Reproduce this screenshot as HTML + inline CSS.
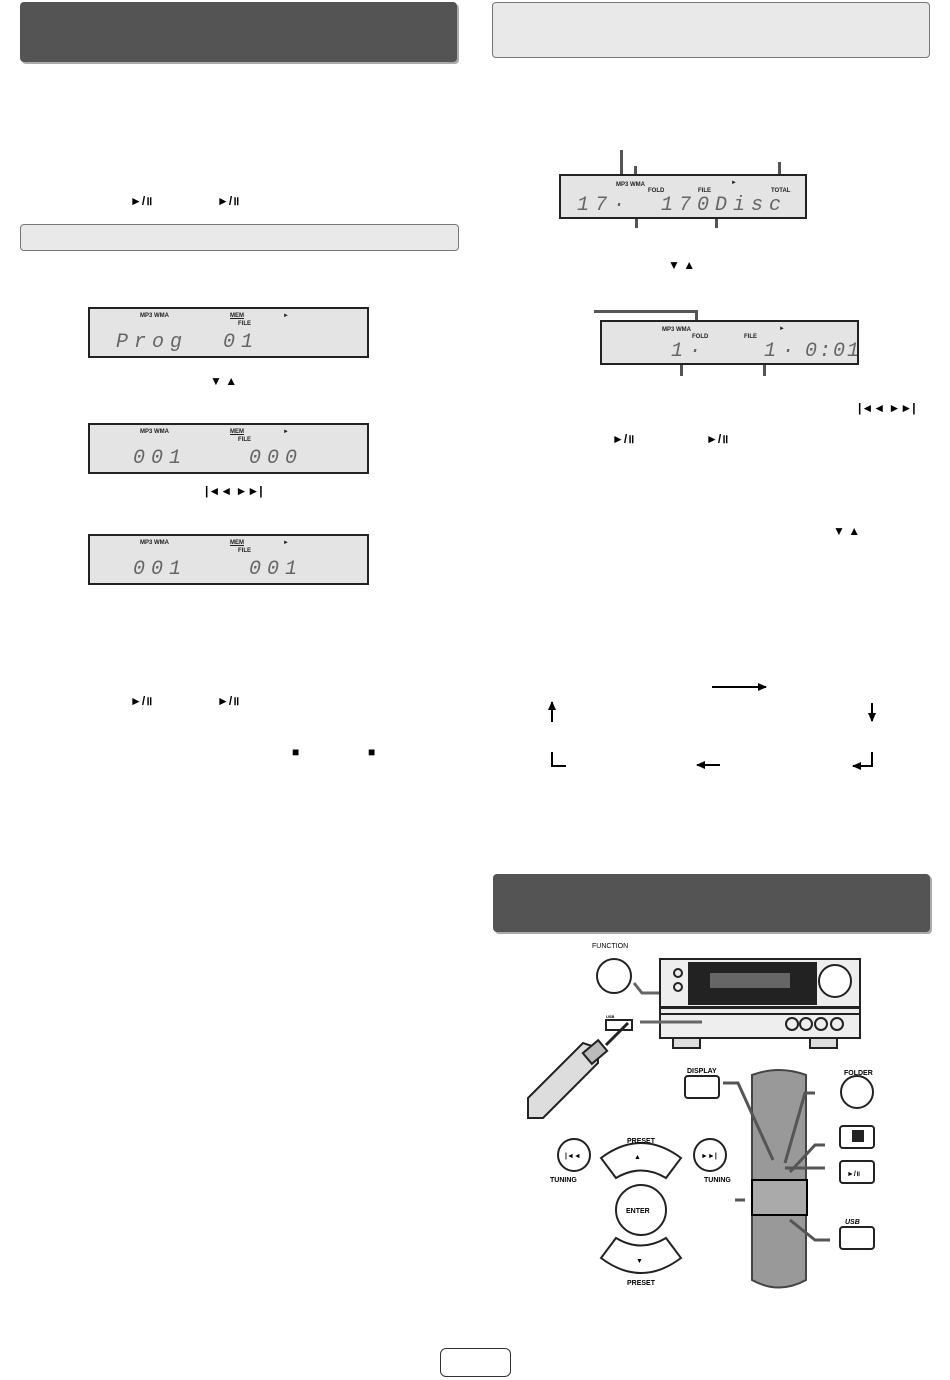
<!DOCTYPE html>
<html><head><meta charset="utf-8"><style>
body{margin:0;background:#fff;font-family:"Liberation Sans",sans-serif;}
.pg{position:relative;width:950px;height:1380px;overflow:hidden;background:#fff}
.a{position:absolute}
.dk{background:#545454;border-radius:4px;box-shadow:2px 2px 0 #aaa}
.lt{background:#e9e9e9;border:1px solid #777;border-radius:4px}
.lcd{position:absolute;background:#e4e4e4;border:2px solid #222;box-sizing:border-box}
.lcd .s{position:absolute;font-size:6px;font-weight:bold;color:#222}
.lcd .d{position:absolute;font-family:"Liberation Mono",monospace;font-style:italic;font-size:20px;color:#666;letter-spacing:6px;white-space:nowrap;line-height:20px}
.sym{position:absolute;font-size:12px;font-weight:bold;color:#000}
.ld{position:absolute;background:#555;width:3px}
</style></head><body><div class="pg">
<div class="a dk" style="left:20px;top:2px;width:437px;height:60px"></div>
<div class="a lt" style="left:492px;top:2px;width:436px;height:54px"></div>
<div class="a lt" style="left:20px;top:224px;width:437px;height:25px"></div>
<div class="a dk" style="left:493px;top:874px;width:437px;height:58px"></div>

<div class="sym" style="left:130px;top:192px">►/॥</div>
<div class="sym" style="left:217px;top:192px">►/॥</div>

<div class="lcd" style="left:88px;top:307px;width:281px;height:51px"><span class="s" style="left:50px;top:4px">MP3 WMA</span><span class="s" style="left:140px;top:4px;text-decoration:underline">MEM</span><span class="s" style="left:148px;top:12px">FILE</span><span class="s" style="left:193px;top:4px">►</span><span class="d" style="left:26px;top:24px">Prog</span><span class="d" style="left:133px;top:24px">01</span></div>
<div class="sym" style="left:210px;top:374px">▼ ▲</div>
<div class="lcd" style="left:88px;top:423px;width:281px;height:51px"><span class="s" style="left:50px;top:4px">MP3 WMA</span><span class="s" style="left:140px;top:4px;text-decoration:underline">MEM</span><span class="s" style="left:148px;top:12px">FILE</span><span class="s" style="left:193px;top:4px">►</span><span class="d" style="left:43px;top:24px">001</span><span class="d" style="left:159px;top:24px">000</span></div>
<div class="sym" style="left:205px;top:484px">|◄◄ ►►|</div>
<div class="lcd" style="left:88px;top:534px;width:281px;height:51px"><span class="s" style="left:50px;top:4px">MP3 WMA</span><span class="s" style="left:140px;top:4px;text-decoration:underline">MEM</span><span class="s" style="left:148px;top:12px">FILE</span><span class="s" style="left:193px;top:4px">►</span><span class="d" style="left:43px;top:24px">001</span><span class="d" style="left:159px;top:24px">001</span></div>
<div class="sym" style="left:130px;top:692px">►/॥</div>
<div class="sym" style="left:217px;top:692px">►/॥</div>
<div class="sym" style="left:292px;top:745px">■</div>
<div class="sym" style="left:368px;top:745px">■</div>

<div class="ld" style="left:620px;top:150px;height:34px"></div>
<div class="ld" style="left:634px;top:166px;height:18px"></div>
<div class="ld" style="left:778px;top:162px;height:22px"></div>
<div class="ld" style="left:635px;top:218px;height:10px"></div>
<div class="ld" style="left:715px;top:218px;height:10px"></div>
<div class="lcd" style="left:559px;top:174px;width:248px;height:45px"><span class="s" style="left:55px;top:6px">MP3 WMA</span><span class="s" style="left:87px;top:12px">FOLD</span><span class="s" style="left:137px;top:12px">FILE</span><span class="s" style="left:170px;top:4px">►</span><span class="s" style="left:210px;top:12px">TOTAL</span><span class="d" style="left:16px;top:20px">17·</span><span class="d" style="left:100px;top:20px">170Disc</span></div>
<div class="sym" style="left:668px;top:258px">▼ ▲</div>
<div class="a" style="left:594px;top:310px;width:104px;height:3px;background:#555"></div>
<div class="ld" style="left:695px;top:310px;height:14px"></div>
<div class="ld" style="left:680px;top:364px;height:12px"></div>
<div class="ld" style="left:763px;top:364px;height:12px"></div>
<div class="lcd" style="left:600px;top:320px;width:259px;height:45px"><span class="s" style="left:60px;top:5px">MP3 WMA</span><span class="s" style="left:90px;top:12px">FOLD</span><span class="s" style="left:142px;top:12px">FILE</span><span class="s" style="left:177px;top:4px">►</span><span class="d" style="left:69px;top:20px">1·</span><span class="d" style="left:162px;top:20px">1·</span><span class="d" style="left:203px;top:20px;letter-spacing:2px">0:01</span></div>
<div class="sym" style="left:858px;top:401px">|◄◄ ►►|</div>
<div class="sym" style="left:612px;top:430px">►/॥</div>
<div class="sym" style="left:706px;top:430px">►/॥</div>
<div class="sym" style="left:833px;top:524px">▼ ▲</div>

<svg class="a" style="left:0;top:0" width="950" height="1380">
<defs><marker id="ah" markerUnits="userSpaceOnUse" markerWidth="9" markerHeight="8" refX="8" refY="4" orient="auto"><path d="M0,0 L9,4 L0,8z" fill="#000"/></marker></defs>
<g stroke="#000" stroke-width="2" fill="none">
<line x1="712" y1="687" x2="766" y2="687" marker-end="url(#ah)"/>
<line x1="552" y1="722" x2="552" y2="702" marker-end="url(#ah)"/>
<line x1="872" y1="703" x2="872" y2="721" marker-end="url(#ah)"/>
<path d="M552,752 V766 H566"/>
<path d="M872,752 V766 H853" marker-end="url(#ah)"/>
<line x1="720" y1="765" x2="697" y2="765" marker-end="url(#ah)"/>
</g>
<g stroke="#222" fill="none" stroke-width="2">
<circle cx="614" cy="976" r="17"/>
<path d="M634,983 l8,10 h40" stroke="#666" stroke-width="3"/>
<rect x="660" y="959" width="200" height="48" fill="#eee"/>
<rect x="689" y="963" width="127" height="41" fill="#222"/>
<rect x="710" y="973" width="80" height="15" fill="#666" stroke="none"/>
<circle cx="835" cy="981" r="16" fill="#fff"/>
<circle cx="678" cy="973" r="4"/><circle cx="678" cy="987" r="4"/>
<rect x="660" y="1008" width="200" height="30" fill="#eee"/>
<line x1="660" y1="1014" x2="860" y2="1014"/>
<rect x="673" y="1038" width="27" height="10" fill="#ddd"/><rect x="810" y="1038" width="27" height="10" fill="#ddd"/>
<circle cx="792" cy="1024" r="6"/><circle cx="806" cy="1024" r="6"/><circle cx="821" cy="1024" r="6"/><circle cx="837" cy="1024" r="6"/>
<rect x="606" y="1020" width="26" height="10" fill="#fff"/>
<line x1="640" y1="1022" x2="702" y2="1022" stroke="#666" stroke-width="3"/>
<path d="M606,1045 l22,-22" stroke-width="3"/>
<path d="M528,1098 l55,-55 l15,5 v15 l-55,55 h-15z" fill="#ddd"/>
<rect x="585" y="1045" width="20" height="14" fill="#bbb" transform="rotate(-40 595 1052)"/>
<rect x="685" y="1076" width="34" height="22" rx="3"/>
<circle cx="857" cy="1092" r="16"/>
<rect x="840" y="1126" width="34" height="22" rx="3"/>
<rect x="840" y="1161" width="34" height="22" rx="3"/>
<rect x="840" y="1227" width="34" height="22" rx="3"/>
<rect x="853" y="1131" width="10" height="10" fill="#222"/>
<circle cx="574" cy="1155" r="16"/><circle cx="710" cy="1155" r="16"/>
<circle cx="641" cy="1210" r="25"/>
<path d="M601,1158 q40,-30 80,0 l-15,20 q-25,-15 -50,0z"/>
<path d="M601,1258 q40,30 80,0 l-15,-20 q-25,15 -50,0z"/>
<path d="M752,1075 q27,-10 54,0 v205 q-27,15 -54,0z" fill="#999" stroke="#444"/>
<rect x="752" y="1180" width="55" height="35" fill="#aaa" stroke="#000" stroke-width="2"/>
<path d="M723,1083 h15 l35,77 M815,1093 h-10 l-20,70 M825,1145 h-10 l-25,27 M825,1168 h-40 M745,1200 h-10 M830,1240 h-15 l-25,-20" stroke="#555" stroke-width="3"/>
</g>
<g fill="#000" font-weight="bold" font-size="7" font-family="Liberation Sans">
<text x="592" y="948" font-weight="normal" font-size="7">FUNCTION</text>
<text x="687" y="1073">DISPLAY</text><text x="844" y="1075">FOLDER</text>
<text x="627" y="1143">PRESET</text><text x="627" y="1285">PRESET</text>
<text x="550" y="1182">TUNING</text><text x="704" y="1182">TUNING</text>
<text x="626" y="1213">ENTER</text><text x="845" y="1224" font-style="italic">USB</text>
<text x="634" y="1159">▲</text><text x="636" y="1263">▼</text>
<text x="565" y="1158">|◄◄</text><text x="701" y="1158">►►|</text>
<text x="847" y="1176">►/॥</text><text x="606" y="1018" font-size="4">USB</text>
</g>
</svg>
<div class="a" style="left:440px;top:1348px;width:71px;height:29px;border:1.5px solid #333;border-radius:6px;box-sizing:border-box"></div>
</div></body></html>
